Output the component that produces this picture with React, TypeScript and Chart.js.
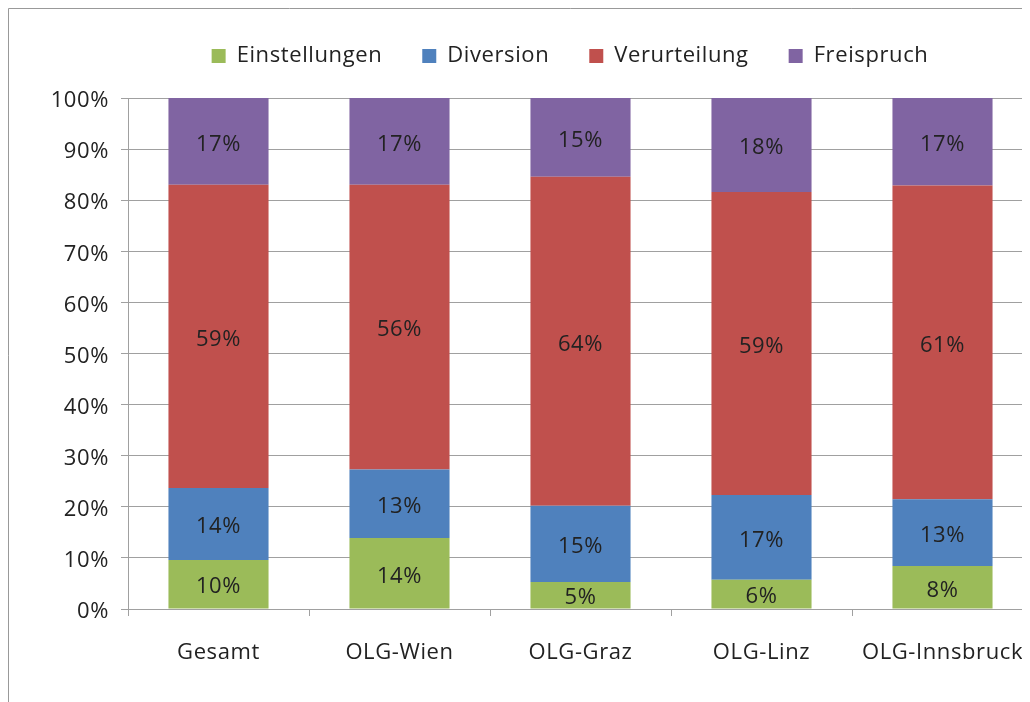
import React, { useEffect, useRef } from "react";
import { Chart, registerables } from "chart.js";

Chart.register(...registerables);

const categories = ["Gesamt", "OLG-Wien", "OLG-Graz", "OLG-Linz", "OLG-Innsbruck"];
const einstellungen = [9.6, 13.9, 5.3, 5.7, 8.4];
const diversion = [14.1, 13.4, 14.9, 16.6, 13.1];
const verurteilung = [59.3, 55.7, 64.4, 59.3, 61.4];
const freispruch = [17.0, 17.0, 15.4, 18.4, 17.1];
const yTicks = [0, 10, 20, 30, 40, 50, 60, 70, 80, 90, 100];

const FONT = "'Open Sans', sans-serif";
const TEXT = "#222222";
const GRID = "#a0a0a0";
const SPACING = "0.6px";

const spacingPlugin = {
  id: "spacing",
  beforeUpdate(chart: any) {
    (chart.ctx as any).letterSpacing = SPACING;
  },
  beforeDraw(chart: any) {
    (chart.ctx as any).letterSpacing = SPACING;
  },
};

const segLabels = {
  id: "segLabels",
  afterDatasetsDraw(chart: any) {
    const ctx = chart.ctx;
    ctx.save();
    (ctx as any).letterSpacing = SPACING;
    ctx.font = `22px ${FONT}`;
    ctx.fillStyle = TEXT;
    ctx.textAlign = "center";
    ctx.textBaseline = "middle";
    chart.data.datasets.forEach((ds: any, di: number) => {
      const meta = chart.getDatasetMeta(di);
      meta.data.forEach((bar: any, i: number) => {
        const v = ds.data[i];
        const y = (bar.y + bar.base) / 2 + 3;
        ctx.fillText(Math.round(v) + "%", bar.x, y);
      });
    });
    ctx.restore();
  },
};

const frame = {
  id: "frame",
  beforeDraw(chart: any) {
    const ctx = chart.ctx;
    ctx.save();
    ctx.strokeStyle = "#999999";
    ctx.lineWidth = 1;
    ctx.beginPath();
    ctx.moveTo(0.5, chart.height);
    ctx.lineTo(0.5, 0.5);
    ctx.lineTo(chart.width, 0.5);
    ctx.stroke();
    ctx.restore();
  },
};

const legendSpace = {
  id: "legendSpace",
  beforeInit(chart: any) {
    const orig = chart.legend.fit;
    chart.legend.fit = function () {
      orig.bind(chart.legend)();
      this.height += 18;
    };
  },
  afterLayout(chart: any) {
    chart.legend.left = 0;
    chart.legend.right = chart.width;
    chart.legend.top = -3;
  },
};

export default function App() {
  const ref = useRef<HTMLCanvasElement>(null);
  useEffect(() => {
    if (!ref.current) return;
    const chart = new Chart(ref.current, {
      type: "bar",
      data: {
        labels: categories,
        datasets: [
          { label: "Einstellungen", data: einstellungen, backgroundColor: "#9BBB59" },
          { label: "Diversion", data: diversion, backgroundColor: "#4F81BD" },
          { label: "Verurteilung", data: verurteilung, backgroundColor: "#C0504D" },
          { label: "Freispruch", data: freispruch, backgroundColor: "#8064A2" },
        ],
      },
      options: {
        responsive: false,
        animation: false,
        layout: { padding: { left: 0, right: 99, top: 0, bottom: 0 } },
        datasets: { bar: { barPercentage: 1, categoryPercentage: 0.553 } },
        plugins: {
          legend: {
            position: "top",
            labels: {
              boxWidth: 14,
              boxHeight: 14,
              padding: 40,
              color: TEXT,
              font: { family: FONT, size: 22 },
            },
          },
          tooltip: { enabled: false },
        },
        scales: {
          x: {
            stacked: true,
            grid: { display: true, drawOnChartArea: false, drawTicks: true, tickLength: 7, color: GRID },
            border: { color: GRID },
            ticks: { color: TEXT, font: { family: FONT, size: 22 }, padding: 24, maxRotation: 0 },
            afterFit(scale: any) {
              scale.height = 93;
            },
          },
          y: {
            stacked: true,
            min: 0,
            max: 100,
            afterBuildTicks(scale: any) {
              scale.ticks = yTicks.map((v) => ({ value: v }));
            },
            grid: { color: GRID, tickLength: 7 },
            border: { color: GRID },
            ticks: {
              color: TEXT,
              font: { family: FONT, size: 22 },
              padding: 12,
              labelOffset: 3,
              callback: (v: any) => v + "%",
            },
            afterFit(scale: any) {
              scale.width = 120;
            },
          },
        },
      },
      plugins: [spacingPlugin, segLabels, frame, legendSpace],
    });
    return () => chart.destroy();
  }, []);
  return (
    <div style={{ width: 1022, height: 694, overflow: "hidden" }}>
      <canvas ref={ref} width={1124} height={694} style={{ display: "block" }} />
    </div>
  );
}
